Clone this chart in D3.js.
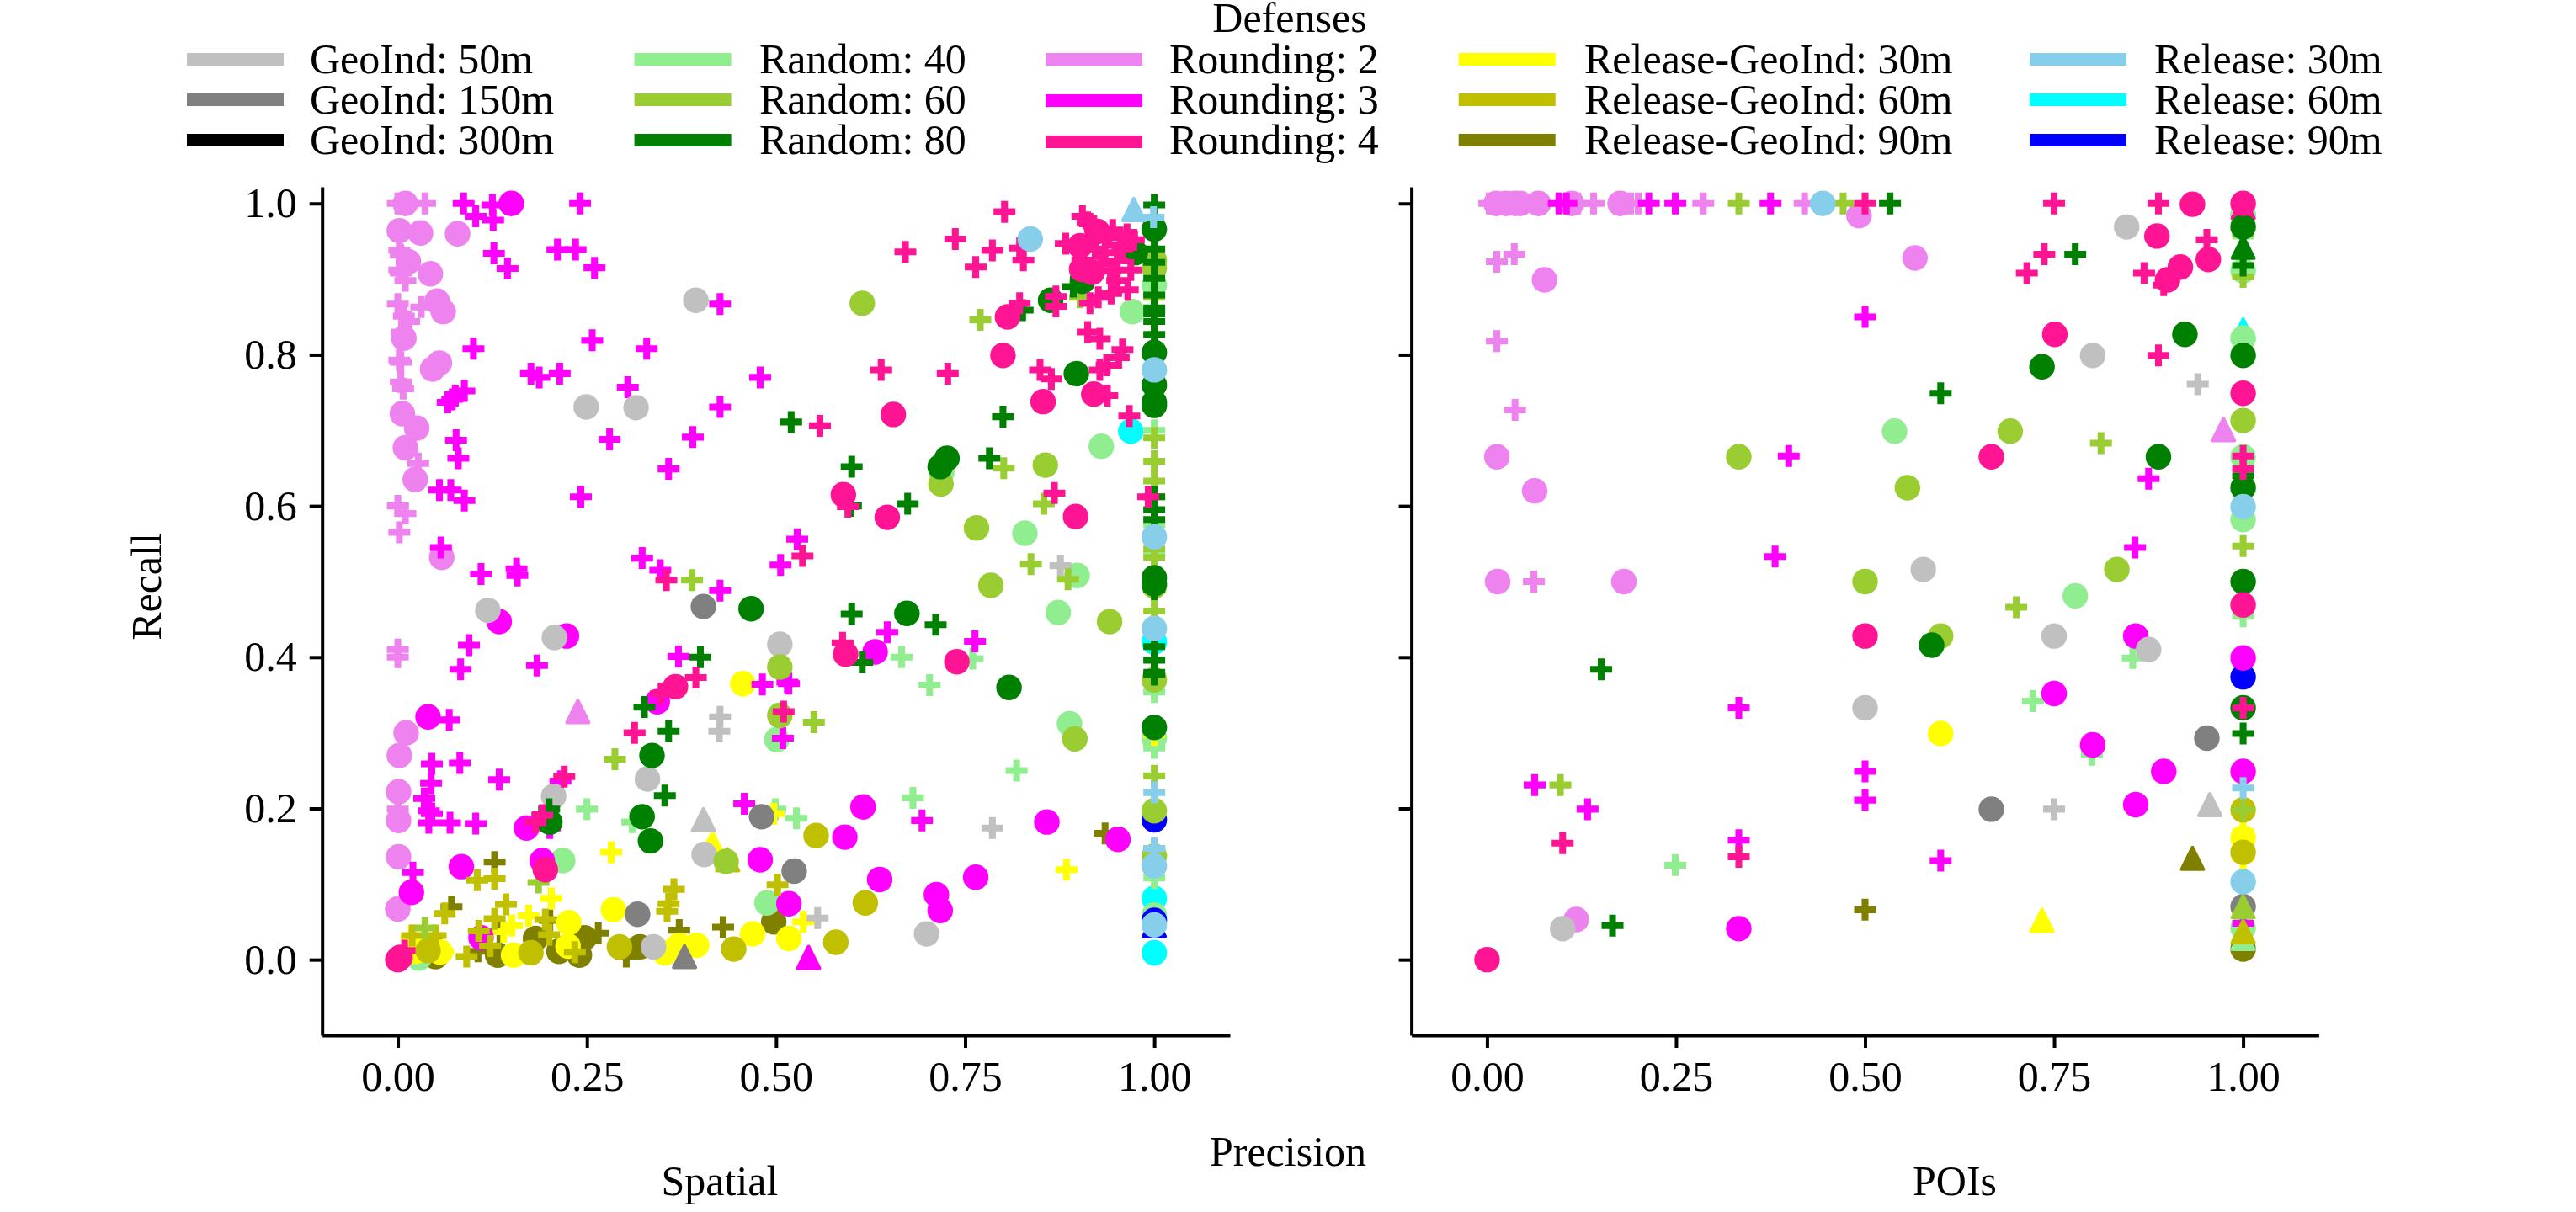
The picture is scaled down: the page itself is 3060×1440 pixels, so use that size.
<!DOCTYPE html>
<html><head><meta charset="utf-8">
<script src="https://cdnjs.cloudflare.com/ajax/libs/d3/7.8.5/d3.min.js"></script>
<style>html,body{margin:0;background:#fff}text{font-family:"Liberation Serif",serif;fill:#000}</style>
</head><body><svg id="c" width="3060" height="1440"></svg>
<script>
const seriesLabels=["GeoInd: 50m","GeoInd: 150m","GeoInd: 300m","Random: 40","Random: 60","Random: 80","Rounding: 2","Rounding: 3","Rounding: 4","Release-GeoInd: 30m","Release-GeoInd: 60m","Release-GeoInd: 90m","Release: 30m","Release: 60m","Release: 90m"];
const seriesColors=["#c0c0c0","#808080","#000000","#90ee90","#9acd32","#008000","#ee82ee","#ff00ff","#ff1493","#ffff00","#c0c000","#808000","#87ceeb","#00ffff","#0000ff"];
const xTicks=[0,0.25,0.5,0.75,1];
const yTicks=[0,0.2,0.4,0.6,0.8,1];
const panelTitles=["Spatial","POIs"];

// ---------- Spatial panel ----------
const spSilverC=[[.394,.872],[.249,.731],[.315,.730],[.119,.462],[.207,.426],[.505,.417],[.206,.216],[.330,.239],[.405,.139],[.338,.017],[.699,.034]];
const spSilverP=[[.876,.521],[.786,.174],[.555,.055],[.426,.321],[.425,.302]];
const spSilverT=[[.404,.185]];
const spGrayC=[[.404,.467],[.481,.189],[.317,.060],[.524,.117]];
const spGrayT=[[.379,.004]];
const spLightC=[[1,.892],[.971,.857],[.930,.679],[.719,.644],[.829,.564],[.898,.508],[.873,.459],[.888,.312],[1,.293],[1,.059],[.218,.131],[.501,.291],[.488,.075],[.028,.002]];
const spLightP=[[1,.700],[1,.575],[1,.537],[1,.354],[1,.280],[.666,.400],[.760,.398],[.703,.363],[.818,.250],[.681,.214],[.527,.187],[.250,.199],[.499,.199],[.310,.182],[1,.108]];
const spYgC=[[.614,.868],[1,.925],[1,.915],[.718,.629],[.765,.571],[.856,.654],[.784,.495],[1,.494],[.941,.447],[.895,.292],[1,.370],[1,.197],[1,.137],[.505,.387],[.505,.323],[.434,.130]];
const spYgP=[[.770,.846],[.902,.876],[.801,.650],[.854,.603],[.837,.523],[.886,.503],[1,.690],[1,.659],[1,.633],[1,.532],[1,.543],[.550,.314],[1,.461],[1,.243],[.287,.265],[.186,.102],[.036,.042],[1,.612],[1,.876],[1,.915],[.389,.502]];
const spGreenC=[[1,.966],[.975,.935],[.863,.872],[1,.803],[1,.760],[1,.737],[1,.733],[.897,.775],[.726,.663],[.717,.652],[1,.505],[1,.497],[.673,.458],[.808,.360],[1,.307],[.336,.270],[.201,.182],[.323,.189],[.334,.157],[.467,.464],[.905,.897]];
const spGreenP=[[1,.998],[1,.940],[1,.922],[1,.901],[1,.879],[1,.862],[1,.854],[1,.844],[1,.827],[1,.759],[1,.612],[1,.595],[1,.582],[1,.490],[1,.414],[1,.396],[1,.380],[1,.377],[.893,.890],[.826,.859],[.800,.718],[.600,.652],[.782,.663],[.674,.603],[.599,.600],[.520,.711],[.600,.457],[.614,.393],[.711,.443],[.400,.400],[.326,.334],[.358,.302],[.353,.217],[.200,.199]];
const spVioletC=[[.010,1],[.002,.964],[.030,.961],[.079,.960],[.014,.923],[.043,.907],[.052,.871],[.060,.857],[.008,.822],[.055,.789],[.046,.781],[.006,.722],[.025,.703],[.010,.677],[.023,.635],[.058,.532],[.011,.300],[.002,.270],[.001,.222],[.001,.184],[.001,.136],[0,.067]];
const spVioletP=[[0,1],[.010,1],[.036,1],[.002,.938],[.004,.932],[.002,.912],[.004,.908],[.010,.898],[0,.867],[.031,.863],[.008,.851],[.015,.844],[.005,.830],[.002,.793],[.004,.790],[.004,.764],[.007,.755],[.027,.656],[0,.600],[.010,.590],[.002,.565],[0,.410],[0,.400],[0,.199]];
const spVioletT=[[.238,.328]];
const spMagentaC=[[.150,1],[.134,.447],[.223,.428],[.040,.321],[.343,.341],[.170,.174],[.191,.131],[.018,.089],[.084,.123],[.110,.029],[.479,.132],[.517,.074],[.631,.407],[.615,.202],[.591,.162],[.637,.106],[.764,.109],[.712,.086],[.717,.065],[.858,.182],[.952,.159]];
const spMagentaP=[[.087,1],[.103,.983],[.125,.998],[.126,.978],[.241,1],[.127,.934],[.145,.914],[.211,.939],[.235,.939],[.260,.915],[.426,.867],[.257,.819],[.329,.808],[.100,.808],[.176,.775],[.187,.770],[.214,.775],[.088,.752],[.304,.757],[.076,.746],[.072,.741],[.066,.737],[.479,.770],[.426,.731],[.280,.688],[.077,.687],[.080,.663],[.390,.691],[.358,.649],[.055,.621],[.070,.621],[.088,.607],[.242,.612],[.323,.531],[.347,.515],[.110,.510],[.157,.517],[.158,.508],[.426,.488],[.506,.522],[.528,.556],[.057,.545],[.094,.416],[.083,.384],[.184,.389],[.371,.401],[.068,.317],[.045,.259],[.082,.260],[.044,.233],[.035,.213],[.041,.197],[.045,.193],[.041,.181],[.069,.181],[.103,.180],[.134,.238],[.215,.236],[.201,.174],[.020,.115],[.482,.364],[.517,.365],[.458,.206],[.509,.293],[.647,.433],[.763,.421],[.693,.184],[.515,.367]];
const spMagentaT=[[.543,.003]];
const spPinkC=[[.902,.944],[.925,.963],[.904,.913],[.918,.909],[.806,.850],[.800,.799],[.853,.738],[.920,.748],[.655,.721],[.589,.615],[.647,.585],[.896,.586],[.367,.361],[.195,.119],[0,0],[.003,.003],[.592,.404],[.739,.394]];
const spPinkP=[[.802,.989],[.737,.953],[.671,.936],[.786,.938],[.822,.941],[.764,.916],[.827,.925],[.905,.983],[.912,.975],[.920,.970],[.883,.947],[.945,.965],[.964,.959],[.973,.952],[.958,.940],[.922,.940],[.930,.920],[.951,.924],[.969,.912],[.942,.911],[.951,.898],[.965,.886],[.943,.881],[.926,.876],[.915,.868],[.870,.877],[.870,.864],[.822,.868],[.912,.830],[.928,.821],[.958,.807],[.953,.796],[.937,.786],[.928,.780],[.849,.780],[.864,.768],[.938,.746],[.967,.719],[.639,.780],[.727,.775],[.558,.706],[.535,.534],[.868,.617],[.992,.612],[.595,.599],[.940,.955],[.955,.945],[.935,.935],[.905,.925],[.355,.502],[.313,.300],[.394,.373],[.348,.352],[.220,.242],[.191,.191],[.182,.182],[.510,.328],[.588,.419],[.009,.012]];
const spYellowC=[[.456,.365],[.285,.066],[.226,.049],[.225,.018],[.153,.006],[.353,.009],[.372,.019],[.395,.019],[.469,.034],[.517,.028],[.056,.010],[.024,.011]];
const spYellowP=[[.282,.142],[.203,.081],[.173,.058],[.151,.045],[.140,.037],[.060,.011],[.497,.193],[.884,.119],[.536,.050],[1,.297],[.018,.030]];
const spYellowT=[[.416,.154]];
const spOliveGC=[[.176,.009],[.293,.017],[.444,.014],[.553,.164],[.618,.075],[.579,.023],[.040,.012]];
const spOliveGP=[[.019,.032],[.050,.032],[.040,.011],[.062,.061],[.105,.105],[.128,.107],[.143,.073],[.128,.054],[.107,.038],[.122,.018],[.091,.004],[.195,.053],[.200,.033],[.234,.010],[.365,.093],[.358,.074],[.356,.064],[.502,.099],[1,.147]];
const spOliveGT=[[.436,.132]];
const spOliveC=[[.182,.028],[.247,.029],[.213,.011],[.240,.006],[.320,.017],[.132,.006],[.050,.004],[.497,.050]];
const spOliveP=[[.128,.129],[.071,.070],[.201,.052],[.265,.035],[.372,.039],[.430,.043],[.935,.167],[.135,.037],[.054,.015],[.302,.004],[.106,.011]];
const spSkyC=[[.836,.953],[1,.780],[1,.559],[1,.438],[1,.124],[1,.046]];
const spSkyP=[[.999,.982],[1,.221],[1,.147]];
const spSkyT=[[.973,.992]];
const spCyanC=[[.969,.699],[1,.420],[1,.081],[1,.009]];
const spBlueC=[[1,.185],[1,.052]];
const spBlueT=[[1,.045]];

// ---------- POIs panel ----------
const poiSilverC=[[.846,.969],[.801,.799],[.577,.516],[.750,.428],[.875,.410],[.5,.333],[.100,.041]];
const poiSilverP=[[.940,.761],[.750,.199]];
const poiSilverT=[[.956,.205]];
const poiGrayC=[[.952,.293],[.667,.199],[1,.070]];
const poiLightC=[[1,.911],[1,.822],[1,.665],[1,.582],[.539,.699],[.778,.481],[1,.042],[1,.985]];
const poiLightP=[[.854,.399],[.722,.342],[.800,.271],[1,.454],[.249,.125],[1,.957]];
const poiLightT=[[1,.028]];
const poiYgC=[[.333,.665],[.556,.624],[.5,.5],[1,.713],[.692,.699],[.833,.516],[.600,.428]];
const poiYgP=[[.333,1],[.471,1],[.097,.231],[1,.903],[1,.547],[.812,.683],[.700,.466],[1,.198],[1,.960]];
const poiYgT=[[1,.070]];
const poiGreenC=[[.923,.827],[.734,.784],[.888,.665],[1,.969],[1,.799],[1,.624],[1,.5],[.588,.416],[1,.333]];
const poiGreenP=[[.533,1],[.778,.933],[.600,.749],[1,.918],[.151,.384],[.166,.045],[1,.299],[1,.640]];
const poiGreenT=[[1,.942]];
const poiVioletC=[[.037,1],[.044,1],[.012,1],[.025,1],[.068,1],[.112,1],[.176,1],[.492,.984],[.566,.928],[.076,.899],[.013,.665],[.063,.620],[.014,.500],[.181,.500],[.118,.053]];
const poiVioletP=[[.003,1],[.013,1],[.022,1],[.030,1],[.141,1],[.120,1],[.190,1],[.200,1],[.286,1],[.420,1],[.013,.923],[.036,.933],[.013,.818],[.037,.727],[.062,.500]];
const poiVioletT=[[.974,.701]];
const poiMagentaC=[[.333,.041],[.858,.428],[.750,.352],[.801,.284],[.895,.249],[.858,.205],[1,.399],[1,.249]];
const poiMagentaP=[[.105,1],[.095,1],[.214,1],[.249,1],[.375,1],[.500,.850],[.399,.666],[.381,.533],[.875,.636],[.857,.545],[.333,.333],[.063,.231],[.133,.199],[.333,.158],[.500,.249],[.500,.211],[.600,.131],[1,.048]];
const poiPinkC=[[.933,.999],[1,1],[.886,.957],[.917,.916],[.900,.899],[.954,.926],[.751,.827],[.667,.665],[1,.749],[1,.469],[.5,.428],[0,0]];
const poiPinkP=[[.750,1],[.5,1],[.888,1],[.952,.952],[.737,.933],[.714,.908],[.869,.908],[.895,.892],[.888,.799],[1,.666],[1,.649],[1,.333],[.100,.154],[.333,.136]];
const poiPinkT=[[1,.995]];
const poiYellowC=[[.600,.299],[1,.161]];
const poiYellowP=[[1,.169],[1,.134]];
const poiYellowT=[[.734,.052]];
const poiOliveGC=[[1,.198],[1,.142]];
const poiOliveGT=[[1,.037]];
const poiOliveC=[[1,.014]];
const poiOliveP=[[.500,.066]];
const poiOliveT=[[.933,.134]];
const poiSkyBackC=[[1,.985]];
const poiSkyC=[[.444,1],[1,.599],[1,.103]];
const poiSkyP=[[1,.227]];
const poiCyanT=[[1,.833]];
const poiBlueC=[[1,.374]];

// layers, back to front: [series index, marker name, points]
const spatialLayers=[[13,"c",spCyanC],[11,"c",spOliveC],[11,"p",spOliveP],[3,"c",spLightC],[3,"p",spLightP],[14,"c",spBlueC],[14,"t",spBlueT],[9,"c",spYellowC],[9,"p",spYellowP],[9,"t",spYellowT],[6,"c",spVioletC],[6,"p",spVioletP],[6,"t",spVioletT],[7,"c",spMagentaC],[7,"p",spMagentaP],[7,"t",spMagentaT],[10,"t",spOliveGT],[10,"c",spOliveGC],[10,"p",spOliveGP],[0,"c",spSilverC],[0,"p",spSilverP],[0,"t",spSilverT],[1,"c",spGrayC],[1,"t",spGrayT],[4,"c",spYgC],[4,"p",spYgP],[5,"c",spGreenC],[5,"p",spGreenP],[8,"c",spPinkC],[8,"p",spPinkP],[12,"c",spSkyC],[12,"t",spSkyT],[12,"p",spSkyP]];
const poiLayers=[[12,"c",poiSkyBackC],[13,"t",poiCyanT],[11,"c",poiOliveC],[11,"p",poiOliveP],[11,"t",poiOliveT],[3,"c",poiLightC],[3,"p",poiLightP],[3,"t",poiLightT],[14,"c",poiBlueC],[9,"p",poiYellowP],[9,"c",poiYellowC],[9,"t",poiYellowT],[6,"c",poiVioletC],[6,"p",poiVioletP],[6,"t",poiVioletT],[7,"c",poiMagentaC],[7,"p",poiMagentaP],[10,"c",poiOliveGC],[10,"t",poiOliveGT],[0,"c",poiSilverC],[0,"p",poiSilverP],[0,"t",poiSilverT],[1,"c",poiGrayC],[4,"c",poiYgC],[4,"p",poiYgP],[4,"t",poiYgT],[8,"t",poiPinkT],[5,"c",poiGreenC],[5,"p",poiGreenP],[5,"t",poiGreenT],[8,"c",poiPinkC],[8,"p",poiPinkP],[12,"c",poiSkyC],[12,"p",poiSkyP]];

const FONT=50;
const svg=d3.select("#c");
const y=d3.scaleLinear().domain([-0.1,1.022]).range([1230,222]);
const panels=[
 {x:d3.scaleLinear().domain([-0.1,1.1]).range([382.7,1461]),layers:spatialLayers,yLabels:true,title:panelTitles[0],titleX:855},
 {x:d3.scaleLinear().domain([-0.1,1.1]).range([1676.6,2754.4]),layers:poiLayers,yLabels:false,title:panelTitles[1],titleX:2322}
];
const triangle={draw(ctx,s){const h=Math.sqrt(s);ctx.moveTo(0,-h/2);ctx.lineTo(h/2,h/2);ctx.lineTo(-h/2,h/2);ctx.closePath();}};
const plusShape={draw(ctx,s){const a=Math.sqrt(s)/2,t=a*0.31;ctx.moveTo(-t,-a);ctx.lineTo(t,-a);ctx.lineTo(t,-t);ctx.lineTo(a,-t);ctx.lineTo(a,t);ctx.lineTo(t,t);ctx.lineTo(t,a);ctx.lineTo(-t,a);ctx.lineTo(-t,t);ctx.lineTo(-a,t);ctx.lineTo(-a,-t);ctx.lineTo(-t,-t);ctx.closePath();}};
const symbols={c:d3.symbol(d3.symbolCircle,Math.PI*15.2*15.2),p:d3.symbol(plusShape,26*26),t:d3.symbol(triangle,26*26)};

panels.forEach(p=>{
 const g=svg.append("g");
 p.layers.forEach(([s,m,pts])=>{
  g.append("g").selectAll("path").data(pts).join("path")
   .attr("d",symbols[m]()).attr("fill",seriesColors[s])
   .attr("stroke",m==="t"?seriesColors[s]:"none").attr("stroke-width",m==="t"?4:0).attr("stroke-linejoin","round")
   .attr("transform",d=>`translate(${p.x(d[0])},${y(d[1])})`);
 });
 const ax=svg.append("g").attr("transform","translate(0,1230)")
  .call(d3.axisBottom(p.x).tickValues(xTicks).tickFormat(d3.format(".2f")).tickSize(15).tickPadding(15).tickSizeOuter(0));
 const ay=svg.append("g").attr("transform",`translate(${p.x.range()[0]},0)`)
  .call(d3.axisLeft(y).tickValues(yTicks).tickFormat(p.yLabels?d3.format(".1f"):"").tickSize(15).tickPadding(15).tickSizeOuter(0));
 [ax,ay].forEach(a=>{a.selectAll("path,line").attr("stroke","#000").attr("stroke-width",4);a.selectAll("text").attr("font-size",FONT).attr("font-family","Liberation Serif");});
 svg.append("text").attr("x",p.titleX).attr("y",1420).attr("text-anchor","middle").attr("font-size",FONT).text(p.title);
});
svg.append("text").attr("x",1530).attr("y",1385).attr("text-anchor","middle").attr("font-size",FONT).text("Precision");
svg.append("text").attr("transform","translate(191,697) rotate(-90)").attr("text-anchor","middle").attr("font-size",FONT).text("Recall");
svg.append("text").attr("x",1532).attr("y",38).attr("text-anchor","middle").attr("font-size",FONT).text("Defenses");

// legend
const legendSwatchX=[222,753.6,1242,1732.7,2411];
const legendTextX=[368,902,1389,1882,2559];
const legendSwatchW=[115,115,115,115,115];
const legendRowY=[70.5,118.5,166.5];
const leg=svg.append("g");
seriesLabels.forEach((t,i)=>{
 const c=Math.floor(i/3),r=i%3;
 const dy=c===2&&r>0?r:0;
 leg.append("rect").attr("x",legendSwatchX[c]).attr("y",legendRowY[r]+dy-7.5).attr("width",legendSwatchW[c]).attr("height",15).attr("fill",seriesColors[i]);
 leg.append("text").attr("x",legendTextX[c]).attr("y",legendRowY[r]+16.5).attr("font-size",FONT).text(t);
});
</script></body></html>
